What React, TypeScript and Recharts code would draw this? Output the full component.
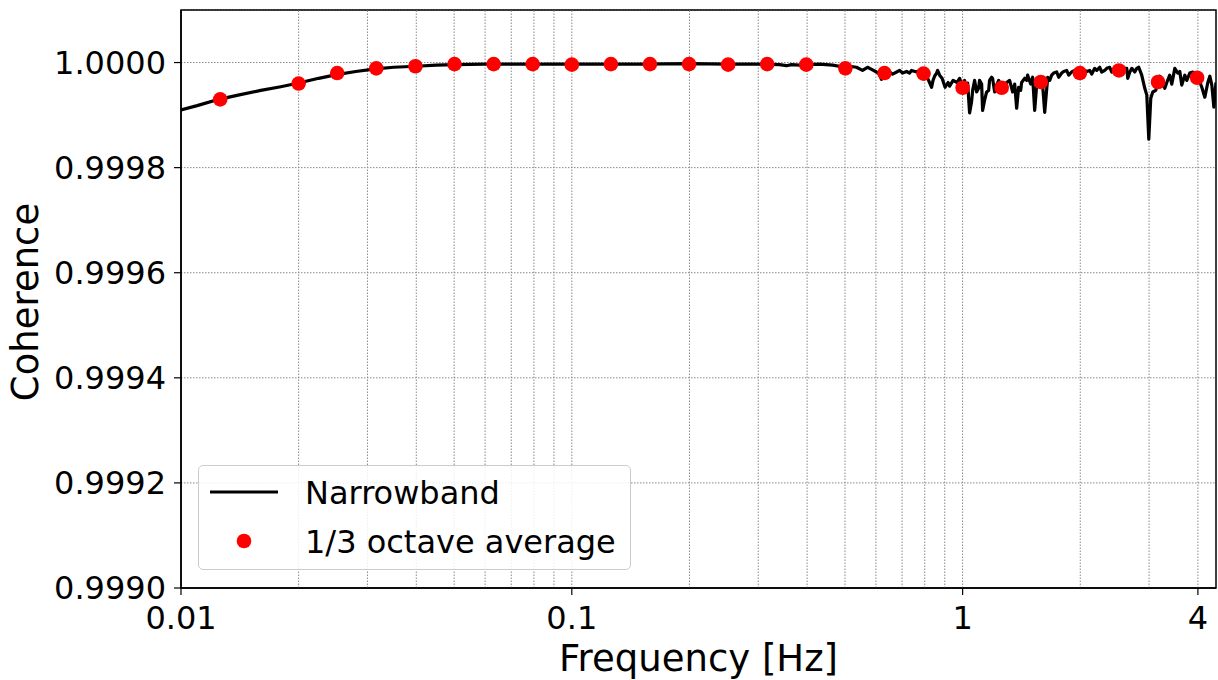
import React from 'react';
import {
  ComposedChart,
  Line,
  Scatter,
  XAxis,
  YAxis,
  CartesianGrid,
  ReferenceLine,
  ReferenceArea,
  Legend,
} from 'recharts';

// Narrowband coherence: [frequency Hz, coherence]
const narrowband: [number, number][] = [
  [0.01, 0.99991], [0.011, 0.999918], [0.0125, 0.99993], [0.014, 0.999938], [0.016, 0.999947],
  [0.018, 0.999954], [0.02, 0.999961], [0.0225, 0.99997], [0.025, 0.999977], [0.028, 0.999983],
  [0.0315, 0.999988], [0.035, 0.999991], [0.04, 0.999993], [0.045, 0.999995], [0.05, 0.999996],
  [0.06, 0.999997], [0.08, 0.999997], [0.1, 0.999997], [0.12, 0.999997], [0.15, 0.999997],
  [0.2, 0.999998], [0.25, 0.999997], [0.3, 0.999997], [0.34, 0.999996], [0.354, 0.999994],
  [0.365, 0.999996], [0.3825, 0.999995], [0.4, 0.999996], [0.43, 0.999997], [0.465, 0.999995],
  [0.5, 0.999991], [0.5135, 0.999993], [0.535, 0.999991], [0.5545, 0.999985], [0.571, 0.999991],
  [0.585, 0.999987], [0.602, 0.999982], [0.6131, 0.999978], [0.62, 0.999968], [0.639, 0.999978],
  [0.6504, 0.999982], [0.662, 0.999978], [0.678, 0.999982], [0.6899, 0.999985], [0.702, 0.99998],
  [0.719, 0.999983], [0.7318, 0.99998], [0.74, 0.999985], [0.763, 0.999982], [0.7762, 0.999985],
  [0.79, 0.999978], [0.8042, 0.999976], [0.814, 0.99997], [0.833, 0.999953], [0.84, 0.999966],
  [0.8479, 0.999974], [0.858, 0.99998], [0.863, 0.999985], [0.8733, 0.999976], [0.886, 0.99997],
  [0.902, 0.999953], [0.918, 0.999962], [0.9262, 0.999955], [0.9455, 0.999966], [0.968, 0.999962],
  [0.9824, 0.99997], [1.0, 0.999953], [1.0119, 0.999966], [1.0178, 0.999944], [1.03, 0.999961],
  [1.042, 0.999904], [1.054, 0.999925], [1.061, 0.999947], [1.0733, 0.999966], [1.086, 0.999944],
  [1.099, 0.999951], [1.105, 0.999966], [1.1186, 0.999959], [1.125, 0.999909], [1.138, 0.999928],
  [1.152, 0.999944], [1.1658, 0.999947], [1.172, 0.999966], [1.1866, 0.999972], [1.193, 0.99997],
  [1.2078, 0.999944], [1.222, 0.999957], [1.2366, 0.999966], [1.259, 0.999953], [1.2735, 0.999944],
  [1.296, 0.999962], [1.319, 0.999966], [1.343, 0.999944], [1.3592, 0.999959], [1.375, 0.999913],
  [1.391, 0.999953], [1.4079, 0.999947], [1.416, 0.999962], [1.441, 0.99997], [1.4586, 0.999966],
  [1.467, 0.999976], [1.4934, 0.999959], [1.511, 0.999972], [1.529, 0.999909], [1.547, 0.999957],
  [1.5652, 0.99997], [1.575, 0.999961], [1.603, 0.999955], [1.622, 0.999905], [1.651, 0.999972],
  [1.6705, 0.999966], [1.69, 0.999976], [1.71, 0.99998], [1.741, 0.999982], [1.7613, 0.999972],
  [1.793, 0.99998], [1.814, 0.999983], [1.846, 0.999985], [1.8685, 0.999976], [1.901, 0.999982],
  [1.9358, 0.999985], [1.9587, 0.999974], [1.993, 0.99998], [2.0294, 0.999976], [2.053, 0.999985],
  [2.0777, 0.999983], [2.115, 0.999985], [2.1399, 0.999978], [2.178, 0.999989], [2.2039, 0.999985],
  [2.243, 0.999991], [2.2699, 0.999982], [2.31, 0.999985], [2.3383, 0.999989], [2.379, 0.999991],
  [2.4083, 0.999982], [2.436, 0.999987], [2.4657, 0.999991], [2.509, 0.999987], [2.5394, 0.999983],
  [2.569, 0.999991], [2.5983, 0.999989], [2.63, 0.999989], [2.646, 0.99997], [2.678, 0.999982],
  [2.71, 0.999989], [2.7574, 0.999982], [2.79, 0.999989], [2.8229, 0.999991], [2.873, 0.999976],
  [2.925, 0.999951], [2.96, 0.999938], [2.995, 0.999854], [3.03, 0.999932], [3.066, 0.999944],
  [3.1204, 0.999947], [3.157, 0.999962], [3.1952, 0.999974], [3.233, 0.99997], [3.291, 0.999951],
  [3.33, 0.999962], [3.388, 0.999976], [3.4294, 0.999959], [3.491, 0.999989], [3.553, 0.99998],
  [3.5953, 0.999983], [3.637, 0.999957], [3.703, 0.999976], [3.7468, 0.999966], [3.813, 0.99998],
  [3.8815, 0.999982], [3.975, 0.99997], [4.0447, 0.999963], [4.093, 0.999953], [4.166, 0.999934],
  [4.241, 0.999962], [4.2913, 0.999974], [4.342, 0.999957], [4.394, 0.999915], [4.45, 0.999962],
];

// 1/3 octave band averages
const octaveFreq = [
  0.0126, 0.02, 0.0251, 0.0316, 0.0398, 0.0501, 0.0631, 0.0794, 0.1, 0.1259,
  0.1585, 0.1995, 0.2512, 0.3162, 0.3981, 0.5012, 0.631, 0.7943, 1.0, 1.2589,
  1.5849, 1.9953, 2.5119, 3.1623, 3.9811,
];
const octaveCoh = [
  0.99993, 0.99996, 0.99998, 0.999989, 0.999993, 0.999997, 0.999997, 0.999997, 0.999996, 0.999997,
  0.999997, 0.999997, 0.999996, 0.999997, 0.999996, 0.999989, 0.99998, 0.999979, 0.999952, 0.999952,
  0.999963, 0.99998, 0.999985, 0.999963, 0.999971,
];

const xTicks = [0.01, 0.1, 1, 4];
const xTickLabels = ['0.01', '0.1', '1', '4'];
const xGrid = [
  0.02, 0.03, 0.04, 0.05, 0.06, 0.07, 0.08, 0.09, 0.1,
  0.2, 0.3, 0.4, 0.5, 0.6, 0.7, 0.8, 0.9, 1,
  2, 3, 4,
];
const yTicks = [0.999, 0.9992, 0.9994, 0.9996, 0.9998, 1.0];
const yTickLabels = ['0.9990', '0.9992', '0.9994', '0.9996', '0.9998', '1.0000'];

const narrowData = narrowband.map(([f, v]) => ({ f, v }));
const octaveData = octaveFreq.map((f, i) => ({ f, v: octaveCoh[i] }));

const FONT = '"DejaVu Sans", sans-serif';
const GRID = '#8a8a8a';

const LegendBox = () => (
  <div
    style={{
      position: 'absolute',
      left: 198,
      top: 465,
      width: 433,
      height: 105,
      border: '1.5px solid #cccccc',
      borderRadius: 5,
      background: 'rgba(255,255,255,0.85)',
      boxSizing: 'border-box',
    }}
  >
    <svg width={433} height={105} style={{ position: 'absolute', left: -1.5, top: -1.5 }}>
      <line x1={12} y1={27} x2={80} y2={27} stroke="#000" strokeWidth={3} />
      <circle cx={46} cy={76} r={7.3} fill="#ff0000" />
      <text x={107} y={27} dy="0.36em" fontFamily={FONT} fontSize={32} fill="#000">
        Narrowband
      </text>
      <text x={107} y={76} dy="0.36em" fontFamily={FONT} fontSize={32} fill="#000">
        1/3 octave average
      </text>
    </svg>
  </div>
);

export default function App() {
  return (
    <div
      style={{
        position: 'fixed',
        left: 0,
        top: 0,
        width: 1218,
        height: 680,
        fontFamily: FONT,
        background: '#fff',
      }}
    >
      <ComposedChart
        width={1218}
        height={680}
        margin={{ top: 10, right: 2, left: 0, bottom: 0 }}
      >
        <CartesianGrid vertical={false} stroke={GRID} strokeDasharray="1.5 1.5" />
        <XAxis
          dataKey="f"
          type="number"
          scale="log"
          domain={[0.01, 4.45]}
          allowDataOverflow
          ticks={xTicks}
          tickFormatter={(v: number) => xTickLabels[xTicks.indexOf(v)] ?? String(v)}
          height={92}
          tickSize={7}
          tickMargin={11}
          axisLine={{ stroke: '#000', strokeWidth: 1.5 }}
          tickLine={{ stroke: '#000', strokeWidth: 1.2 }}
          tick={{ fill: '#000', fontSize: 32, fontFamily: FONT }}
          label={({ viewBox }: any) => (
            <text
              x={viewBox.x + viewBox.width / 2}
              y={viewBox.y + 83}
              textAnchor="middle"
              fontFamily={FONT}
              fontSize={37}
              fill="#000"
            >
              Frequency [Hz]
            </text>
          )}
        />
        <YAxis
          dataKey="v"
          type="number"
          domain={[0.999, 1.0001]}
          allowDataOverflow
          ticks={yTicks}
          tickFormatter={(v: number) => {
            const i = yTicks.findIndex((t) => Math.abs(t - v) < 1e-9);
            return i >= 0 ? yTickLabels[i] : v.toFixed(4);
          }}
          width={181}
          tickSize={7}
          tickMargin={8}
          axisLine={{ stroke: '#000', strokeWidth: 1.5 }}
          tickLine={{ stroke: '#000', strokeWidth: 1.2 }}
          tick={{ fill: '#000', fontSize: 32, fontFamily: FONT }}
          label={({ viewBox }: any) => {
            const cx = 38;
            const cy = viewBox.y + viewBox.height / 2 + 3;
            return (
              <text
                x={cx}
                y={cy}
                textAnchor="middle"
                transform={`rotate(-90, ${cx}, ${cy})`}
                fontFamily={FONT}
                fontSize={37}
                fill="#000"
              >
                Coherence
              </text>
            );
          }}
        />
        {xGrid.map((g) => (
          <ReferenceLine key={g} x={g} stroke={GRID} strokeDasharray="1.5 1.5" strokeWidth={1} />
        ))}
        <ReferenceArea
          x1={0.01}
          x2={4.45}
          y1={0.999}
          y2={1.0001}
          fill="none"
          stroke="#000"
          strokeWidth={1.5}
          ifOverflow="visible"
        />
        <Line
          data={narrowData}
          dataKey="v"
          type="linear"
          stroke="#000"
          strokeWidth={3.2}
          dot={false}
          activeDot={false}
          isAnimationActive={false}
          strokeLinejoin="round"
        />
        <Scatter
          data={octaveData}
          dataKey="v"
          fill="#ff0000"
          isAnimationActive={false}
          shape={(p: any) => <circle cx={p.cx} cy={p.cy} r={7.3} fill="#ff0000" />}
        />
        <Legend
          content={() => <LegendBox />}
          wrapperStyle={{ position: 'absolute', left: 0, top: 0, width: 0, height: 0 }}
        />
      </ComposedChart>
    </div>
  );
}
